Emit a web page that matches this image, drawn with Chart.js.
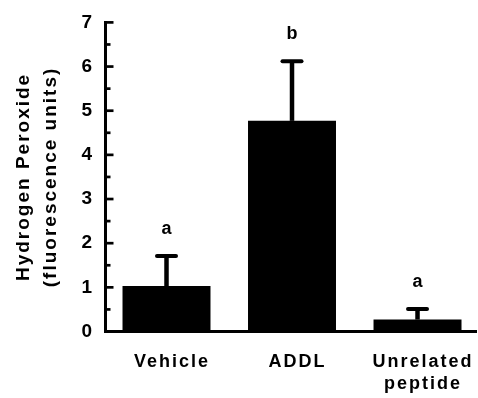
<!DOCTYPE html>
<html>
<head>
<meta charset="utf-8">
<script src="https://cdn.jsdelivr.net/npm/chart.js@4"></script>
<style>
  html, body { margin: 0; padding: 0; background: #fff; }
  #wrap { width: 478px; height: 398px; }
</style>
</head>
<body>
<div id="wrap"><canvas id="c" width="478" height="398"></canvas></div>
<script>
// Treatment groups (multi-line labels as arrays)
const categories = ['Vehicle', 'ADDL', ['Unrelated', 'peptide']];
// Mean hydrogen peroxide signal (fluorescence units) and upper error
const means = [1.03, 4.77, 0.27];
const errors = [0.68, 1.35, 0.24];
// Statistical grouping letters shown above each bar
const groupLetters = ['a', 'b', 'a'];
// Y axis tick values
const yMajorTicks = [0, 1, 2, 3, 4, 5, 6, 7];
const yMinorTicks = [0.5, 1.5, 2.5, 3.5, 4.5, 5.5, 6.5];
const yTitle = ['Hydrogen Peroxide', '(fluorescence units)'];

const FONT = '"Liberation Sans", Arial, Helvetica, sans-serif';

// Wide tracking for every label on the canvas
const trackingPlugin = {
  id: 'tracking',
  beforeLayout(chart) { chart.ctx.letterSpacing = '2px'; },
  beforeDraw(chart) { chart.ctx.letterSpacing = '2px'; }
};

// Inward major/minor tick marks on the value axis
const innerTicksPlugin = {
  id: 'innerTicks',
  afterDraw(chart) {
    const { ctx, chartArea, scales: { y } } = chart;
    const left = chartArea.left;
    ctx.save();
    ctx.strokeStyle = '#000';
    ctx.lineWidth = 2.7;
    ctx.lineCap = 'butt';
    const tick = (v, len) => {
      const py = y.getPixelForValue(v);
      ctx.beginPath();
      ctx.moveTo(left, py);
      ctx.lineTo(left + len, py);
      ctx.stroke();
    };
    yMajorTicks.forEach(v => tick(v, 8.5));
    yMinorTicks.forEach(v => tick(v, 5.5));
    ctx.restore();
  }
};

// Upper error bars and group letters
const errorBarPlugin = {
  id: 'errorBars',
  afterDatasetsDraw(chart) {
    const { ctx, scales: { x, y } } = chart;
    ctx.save();
    ctx.strokeStyle = '#000';
    ctx.fillStyle = '#000';
    means.forEach((m, i) => {
      const px = x.getPixelForValue(i);
      const y0 = y.getPixelForValue(m);
      const y1 = y.getPixelForValue(m + errors[i]);
      ctx.lineWidth = 4.5;
      ctx.lineCap = 'butt';
      ctx.beginPath();
      ctx.moveTo(px, y0);
      ctx.lineTo(px, y1);
      ctx.stroke();
      ctx.lineWidth = 4;
      ctx.lineCap = 'round';
      ctx.beginPath();
      ctx.moveTo(px - 9.5, y1);
      ctx.lineTo(px + 9.5, y1);
      ctx.stroke();
      ctx.font = 'bold 18px ' + FONT;
      ctx.textAlign = 'center';
      ctx.textBaseline = 'alphabetic';
      ctx.fillText(groupLetters[i], px + 1, y1 - 22);
    });
    ctx.restore();
  }
};

new Chart(document.getElementById('c'), {
  type: 'bar',
  data: {
    datasets: [{
      data: means.map((m, i) => ({ x: i, y: m })),
      backgroundColor: '#000',
      borderWidth: 0,
      barPercentage: 0.701,
      categoryPercentage: 1.0
    }]
  },
  options: {
    responsive: false,
    animation: false,
    devicePixelRatio: 1,
    layout: { padding: { top: 18, right: 1.5, bottom: 0, left: 0 } },
    plugins: { legend: { display: false }, tooltip: { enabled: false } },
    scales: {
      x: {
        type: 'linear',
        min: -0.49,
        max: 2.47,
        offset: false,
        grid: { display: false, drawTicks: false, offset: false },
        border: { display: true, color: '#000', width: 3 },
        afterBuildTicks: s => { s.ticks = categories.map((c, i) => ({ value: i })); },
        afterFit: s => { s.height = 66.5; s.paddingLeft = 0; s.paddingRight = 0; },
        ticks: {
          callback: v => categories[v],
          color: '#000',
          autoSkip: false,
          maxRotation: 0,
          padding: 19.75,
          labelOffset: 5.5,
          font: { family: FONT, size: 18, weight: 'bold', lineHeight: 1.206 }
        }
      },
      y: {
        min: 0,
        max: 7,
        grid: { display: false, drawTicks: false },
        border: { display: true, color: '#000', width: 3 },
        afterFit: s => { s.width = 105; },
        ticks: {
          stepSize: 1,
          color: '#000',
          padding: 11,
          font: { family: FONT, size: 19, weight: 'bold' }
        },
        title: {
          display: true,
          text: yTitle,
          color: '#000',
          padding: { top: 9.9, bottom: 0 },
          font: { family: FONT, size: 19, weight: 'bold', lineHeight: 1.42 }
        }
      }
    }
  },
  plugins: [trackingPlugin, innerTicksPlugin, errorBarPlugin]
});
</script>
</body>
</html>
